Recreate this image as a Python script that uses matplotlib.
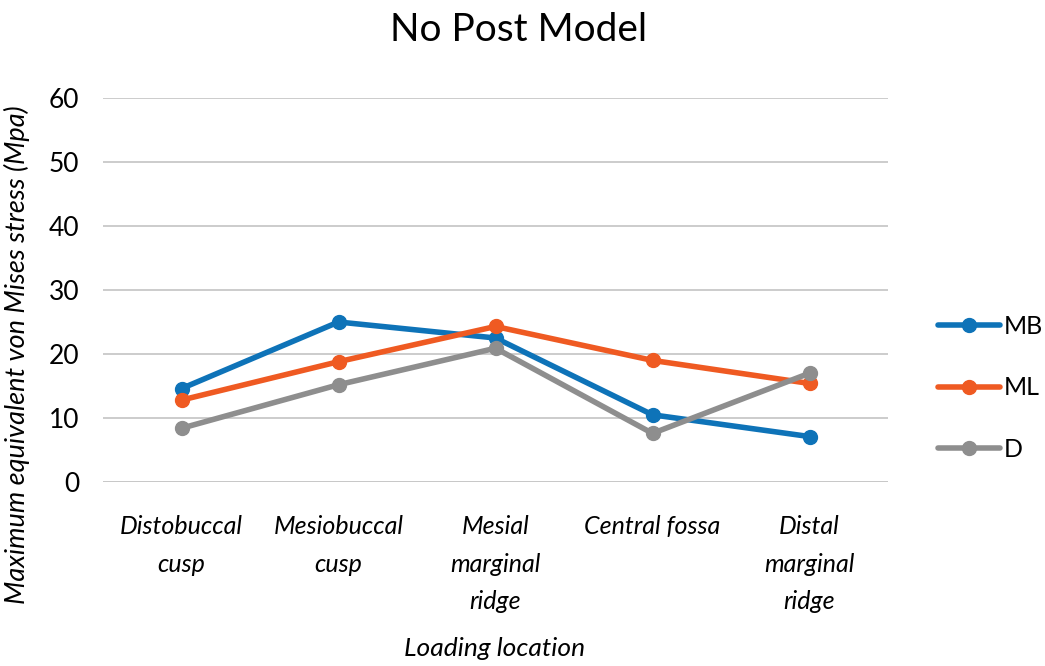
import matplotlib
matplotlib.use("Agg")
import matplotlib.pyplot as plt

categories = ["Distobuccal\ncusp", "Mesiobuccal\ncusp", "Mesial\nmarginal\nridge",
              "Central fossa", "Distal\nmarginal\nridge"]
mb = [14.6, 25.0, 22.5, 10.5, 7.1]
ml = [12.8, 18.8, 24.3, 19.0, 15.4]
d = [8.4, 15.2, 20.9, 7.6, 17.0]
series_names = ["MB", "ML", "D"]
colors = ["#0E73B8", "#EF5A22", "#8E8E8E"]
yticks = [0, 10, 20, 30, 40, 50, 60]

plt.rcParams['font.family'] = ['Lato', 'DejaVu Sans']

fig = plt.figure(figsize=(10.45, 6.66), dpi=100)
ax = fig.add_axes([103/1045, 1-482/666, (888-103)/1045, (482-98)/666])

x = list(range(len(categories)))
for vals, name, c in zip([mb, ml, d], series_names, colors):
    ax.plot(x, vals, color=c, lw=4, marker='o', ms=10, label=name,
            solid_capstyle='round')

ax.set_xlim(-0.5, 4.5)
ax.set_ylim(0, 60)
ax.set_yticks(yticks)
ax.set_yticklabels([str(v) for v in yticks], fontsize=19)
ax.set_xticks(x)
ax.set_xticklabels(categories, fontsize=18, style='italic', va='top', linespacing=1.75)
ax.tick_params(axis='both', length=0)
ax.tick_params(axis='y', pad=17)
ax.tick_params(axis='x', pad=24)
ax.grid(axis='y', color='#C8C8C8', lw=1.3)
ax.set_axisbelow(True)
for s in ax.spines.values():
    s.set_visible(False)
ax.axhline(0, color='#C8C8C8', lw=1.3, zorder=0)

fig.text(519/1045, 1-30/666, "No Post Model", ha='center', va='center', fontsize=28)
fig.text(17/1045, 1-355/666, "Maximum equivalent von Mises stress (Mpa)", rotation=90,
         ha='center', va='center', fontsize=19.5, style='italic')
fig.text(495/1045, 1-648/666, "Loading location", ha='center', va='center',
         fontsize=19, style='italic')

leg = ax.legend(loc='center left', bbox_to_anchor=(1.035, 0.245), frameon=False,
                fontsize=18, handlelength=2.5, labelspacing=1.55, handletextpad=0.15)

fig.savefig("out.png", dpi=100)
